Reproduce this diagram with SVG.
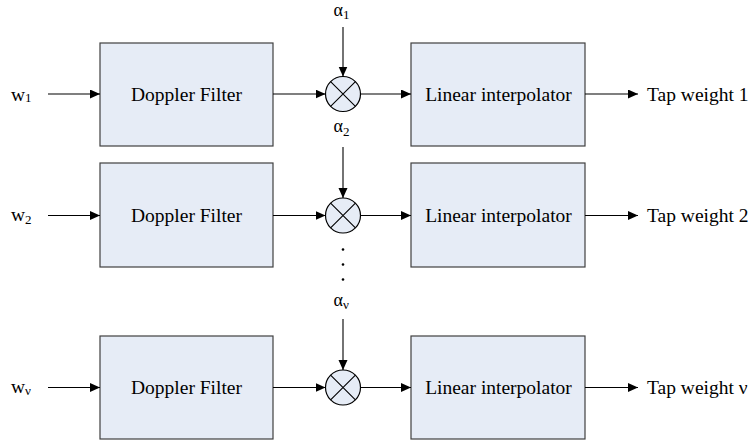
<svg xmlns="http://www.w3.org/2000/svg" width="753" height="444" viewBox="0 0 753 444">
<style>
.box{fill:#E6ECF6;stroke:#404040;stroke-width:1.2}
.mul{fill:#E6ECF6;stroke:#000;stroke-width:1.2}
.x{stroke:#000;stroke-width:1.1;fill:none}
.ln{stroke:#000;stroke-width:1.1;fill:none;marker-end:url(#ah)}
.t{font-family:"Liberation Serif","Times New Roman",serif;font-size:19.5px;fill:#000}
.c{text-anchor:middle}
.sub{font-size:13px}
.al{font-size:18px}
</style>
<defs>
<marker id="ah" markerUnits="userSpaceOnUse" markerWidth="11" markerHeight="10" refX="10" refY="4.5" orient="auto">
<path d="M0,0 L10,4.5 L0,9 z" fill="#000"/>
</marker>
</defs>
<rect width="753" height="444" fill="#fff"/>

<g id="row1">
<g id="in1"><text class="t" x="11" y="101">w<tspan class="sub" dy="1">1</tspan></text></g>
<g id="df1"><rect class="box" x="100" y="43" width="173" height="103"/><text class="t c" x="186.5" y="101">Doppler Filter</text></g>
<g id="a1"><text class="t al" x="333.5" y="16">α<tspan class="sub" dy="3">1</tspan></text></g>
<g id="m1"><circle class="mul" cx="343" cy="94" r="17.5"/><path class="x" d="M330.6,81.6 L355.4,106.4 M355.4,81.6 L330.6,106.4"/></g>
<g id="li1"><rect class="box" x="411" y="43" width="174" height="103"/><text class="t c" x="498.5" y="101">Linear interpolator</text></g>
<g id="out1"><text class="t" x="647" y="101">Tap weight 1</text></g>
</g>

<g id="row2">
<g id="in2"><text class="t" x="11" y="221">w<tspan class="sub" dy="2.5">2</tspan></text></g>
<g id="df2"><rect class="box" x="100" y="163" width="173" height="104"/><text class="t c" x="186.5" y="222">Doppler Filter</text></g>
<g id="a2"><text class="t al" x="333.5" y="132">α<tspan class="sub" dy="3.5">2</tspan></text></g>
<g id="m2"><circle class="mul" cx="343" cy="215.5" r="17.5"/><path class="x" d="M330.6,203.1 L355.4,227.9 M355.4,203.1 L330.6,227.9"/></g>
<g id="li2"><rect class="box" x="411" y="163" width="174" height="104"/><text class="t c" x="498.5" y="222">Linear interpolator</text></g>
<g id="out2"><text class="t" x="647" y="222">Tap weight 2</text></g>
</g>

<g id="dots" fill="#000">
<circle cx="343" cy="249.5" r="1.3"/><circle cx="343" cy="264.5" r="1.3"/><circle cx="343" cy="279.5" r="1.3"/>
</g>

<g id="row3">
<g id="in3"><text class="t" x="11" y="393">w<tspan class="sub" dy="2">ν</tspan></text></g>
<g id="df3"><rect class="box" x="100" y="336" width="173" height="103"/><text class="t c" x="186.5" y="394">Doppler Filter</text></g>
<g id="a3"><text class="t al" x="333.5" y="306">α<tspan class="sub" dy="3">ν</tspan></text></g>
<g id="m3"><circle class="mul" cx="343" cy="387.5" r="17.5"/><path class="x" d="M330.6,375.1 L355.4,399.9 M355.4,375.1 L330.6,399.9"/></g>
<g id="li3"><rect class="box" x="411" y="336" width="174" height="103"/><text class="t c" x="498.5" y="394">Linear interpolator</text></g>
<g id="out3"><text class="t" x="647" y="394">Tap weight ν</text></g>
</g>

<g id="connectors">
<path class="ln" d="M48,94 H100"/>
<path class="ln" d="M273,94 H325.5"/>
<path class="ln" d="M343,27 V76.5"/>
<path class="ln" d="M360.5,94 H411"/>
<path class="ln" d="M585,94 H638"/>

<path class="ln" d="M48,215.5 H100"/>
<path class="ln" d="M273,215.5 H325.5"/>
<path class="ln" d="M343,147 V198"/>
<path class="ln" d="M360.5,215.5 H411"/>
<path class="ln" d="M585,215.5 H638"/>

<path class="ln" d="M48,387.5 H100"/>
<path class="ln" d="M273,387.5 H325.5"/>
<path class="ln" d="M343,319 V370"/>
<path class="ln" d="M360.5,387.5 H411"/>
<path class="ln" d="M585,387.5 H638"/>
</g>
</svg>
